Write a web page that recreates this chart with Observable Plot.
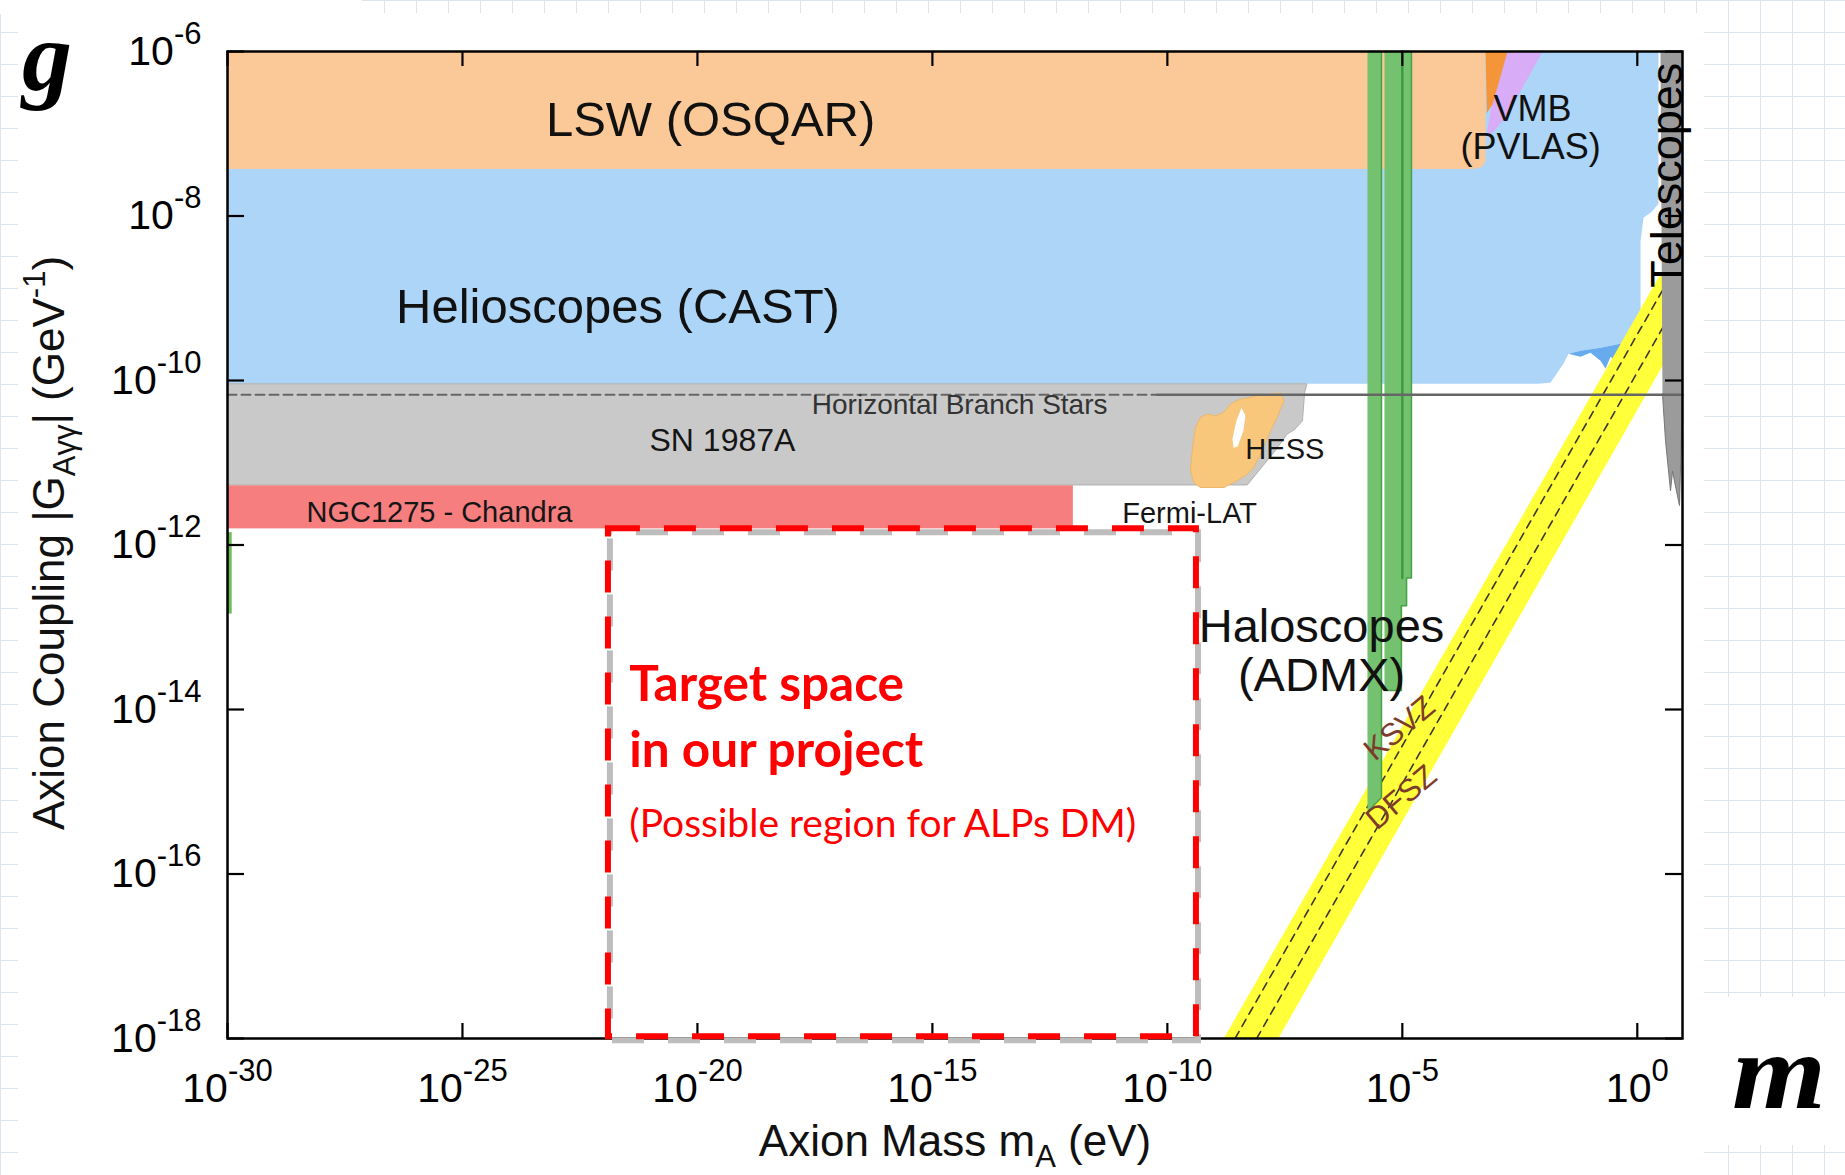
<!DOCTYPE html>
<html>
<head>
<meta charset="utf-8">
<script src="https://cdn.jsdelivr.net/npm/d3@7"></script>
<script src="https://cdn.jsdelivr.net/npm/@observablehq/plot@0.6"></script>
<style>
  html, body { margin: 0; padding: 0; }
  body { width: 1845px; height: 1175px; position: relative; overflow: hidden; background: #fff; }
  #grid { position: absolute; left: 0; top: 0; width: 1845px; height: 1175px;
    background-image: linear-gradient(to right, #dbe5ef 1px, transparent 1px),
                      linear-gradient(to bottom, #dbe5ef 1px, transparent 1px);
    background-size: 32px 32px; }
  .paper { position: absolute; background: #fff; }
  #chart { position: absolute; left: 0; top: 0; }
</style>
</head>
<body>
<div id="grid"></div>
<div class="paper" style="left:18px; top:13px; width:1686px; height:1162px;"></div>
<div class="paper" style="left:0px; top:0px; width:362px; height:14px;"></div>
<div class="paper" style="left:1704px; top:997px; width:141px; height:148px;"></div>
<div id="chart"></div>
<script>
// ---- axes (exponents of ten) ----
const xTicks = [-30, -25, -20, -15, -10, -5, 0];
const yTicks = [-6, -8, -10, -12, -14, -16, -18];

// ---- regions: [log10 mass (eV), log10 coupling (GeV^-1)] ----
const castRegion = [[-30,-6],[0.451,-6],[0.451,-7.852],[0.30,-7.95],[0.133,-8.022],[0.069,-8.3],[0.069,-9.311],
  [-0.102,-9.481],[-0.358,-9.554],[-0.783,-9.603],[-1.209,-9.639],[-1.464,-9.675],[-1.571,-9.797],
  [-1.848,-10.028],[-2.125,-10.04],[-30,-10.04]];
const castEdge = [[-1.464,-9.675],[-1.209,-9.712],[-0.996,-9.663],[-0.783,-9.76],[-0.676,-9.857],[-0.57,-9.712],
  [-0.358,-9.809],[-0.23,-9.907],[-0.145,-9.736],[0.069,-9.578],[0.069,-9.311],[-0.102,-9.481],
  [-0.358,-9.554],[-0.783,-9.603],[-1.209,-9.639]];
const lswRegion = [[-30,-6],[-3.23,-6],[-3.23,-7.33],[-3.3,-7.4],[-3.45,-7.425],[-3.66,-7.43],[-30,-7.43]];
const vmbRegion = [[-2.8,-6],[-2.02,-6],[-2.45,-6.45],[-2.8,-6.8],[-3.1,-7.0],[-3.2,-6.98],[-3.05,-6.5]];
const pvlasStreak = [[-3.23,-6],[-2.76,-6],[-3.08,-6.64],[-3.2,-6.75]];
const snRegion = [[-30,-10.04],[-7.03,-10.04],[-7.08,-10.15],[-7.125,-10.49],[-7.3,-10.6],[-7.45,-10.65],
  [-7.7,-10.85],[-8.3,-11.27],[-30,-11.27]];
const hessRegion = [[-7.593,-10.146],[-7.522,-10.247],[-7.663,-10.45],[-7.806,-10.612],[-8.019,-10.895],
  [-8.161,-11.058],[-8.302,-11.138],[-8.515,-11.219],[-8.8,-11.301],[-9.296,-11.301],[-9.438,-11.24],
  [-9.508,-11.098],[-9.472,-10.855],[-9.402,-10.572],[-9.296,-10.45],[-9.153,-10.409],[-8.977,-10.429],
  [-8.8,-10.389],[-8.657,-10.287],[-8.445,-10.226],[-8.232,-10.207],[-8.019,-10.166]];
const hessHole = [[-8.423,-10.332],[-8.338,-10.429],[-8.381,-10.612],[-8.508,-10.806],[-8.594,-10.818],
  [-8.615,-10.709],[-8.53,-10.49]];
const ngcMass = [-30, -12.0];
const ngcCoupling = [-11.804, -11.28];
const sliverMass = [-30, -29.9];
const sliverCoupling = [-12.84, -11.85];
const haloA = [[-5.742,-6],[-5.444,-6],[-5.444,-15.07],[-5.6,-15.16],[-5.742,-15.25]];
const haloB = [[-5.38,-6],[-4.806,-6],[-4.806,-12.4],[-4.91,-12.4],[-4.91,-12.74],[-5.02,-12.74],
  [-5.02,-13.77],[-5.38,-13.77]];
const haloBInner = [[-5.0,-6],[-5.0,-12.4]];
const axionBand = [[-8.8,-18],[-7.64,-18],[1.69,-8.67],[0.53,-8.67]];
const ksvzLine = [[-8.56,-18],[0.77,-8.67]];
const dfszLine = [[-8.1,-18],[1.23,-8.67]];
const telescopes = [[0.494,-6],[0.962,-6],[0.962,-10.16],[0.898,-11.52],[0.79,-11.22],[0.75,-11.1],
  [0.707,-11.34],[0.6,-10.73],[0.536,-10.16]];
const hbDashed = [[-30,-10.174],[-10.21,-10.174]];
const hbSolid = [[-10.21,-10.174],[0.962,-10.174]];
const targetMass = [-21.894, -9.381];
const targetCoupling = [-17.98, -11.803];

// ---- labels ----
const bigLabels = ["LSW (OSQAR)", "Helioscopes (CAST)", "VMB", "(PVLAS)", "Haloscopes", "(ADMX)"];
const bigLabelMass = [-19.72, -21.69, -2.23, -2.27, -6.72, -6.72];
const bigLabelCoupling = [-7.03, -9.30, -6.84, -7.31, -13.18, -13.77];
const bigLabelSize = [49, 49, 36, 36, 47, 47];
const smallLabels = ["SN 1987A", "NGC1275 - Chandra", "HESS", "Fermi-LAT"];
const smallLabelMass = [-21.02, -28.32, -8.34, -10.96];
const smallLabelCoupling = [-10.855, -11.718, -10.952, -11.73];
const smallLabelSize = [32, 29, 29, 29];
const smallLabelColor = ["#333", "#111", "#111", "#111"];
const modelLabels = ["KSVZ", "DFSZ"];
const modelLabelMass = [-5.06, -5.02];
const modelLabelCoupling = [-14.23, -15.07];
const targetText = ["Target space", "in our project", "(Possible region for ALPs DM)"];
const targetTextCoupling = [-13.893, -14.696, -15.55];
const targetTextSize = [49.5, 49.5, 39];

// ---- build ----
const P = d => ({x: d[0], y: d[1]});
const poly = (pts, fill, extra = {}) => Plot.line(pts.map(P), {x: "x", y: "y", fill, stroke: "none", ...extra});
const zip = (...arrs) => arrs[0].map((_, i) => arrs.map(a => a[i]));

const W = 1845, H = 1175, mL = 227, mR = 163, mT = 51, mB = 137;
const fw = W - mL - mR, fh = H - mT - mB;
const expFmt = d => `10^${d}`;

const bigData = zip(bigLabels, bigLabelMass, bigLabelCoupling, bigLabelSize);
const smallData = zip(smallLabels, smallLabelMass, smallLabelCoupling, smallLabelSize, smallLabelColor);
const modelData = zip(modelLabels, modelLabelMass, modelLabelCoupling);
const targetData = zip(targetText, targetTextCoupling, targetTextSize);

const chart = Plot.plot({
  width: W, height: H,
  marginLeft: mL, marginRight: mR, marginTop: mT, marginBottom: mB,
  style: {background: "transparent", fontFamily: "'Liberation Sans', Arial, sans-serif", fontSize: "41px", color: "#000"},
  x: {domain: [-30, 0.962], ticks: xTicks, tickFormat: expFmt, tickSize: 0, tickPadding: 34, label: null},
  y: {domain: [-18, -6], ticks: yTicks, tickFormat: expFmt, tickSize: 0, tickPadding: 26, label: null},
  marks: [
    poly(castRegion, "#ADD5F7"),
    poly(castEdge, "#67AAEE"),
    poly(lswRegion, "#FBC998"),
    poly(vmbRegion, "#D8ACF6"),
    poly(pvlasStreak, "#F4953A"),
    poly(snRegion, "#C9C9C9", {stroke: "#B0B0B0", strokeWidth: 1}),
    Plot.rect([0], {x1: () => ngcMass[0], x2: () => ngcMass[1], y1: () => ngcCoupling[0], y2: () => ngcCoupling[1], fill: "#F67E7E"}),
    poly(hessRegion, "#F8C77C", {stroke: "#EDB868", strokeWidth: 1}),
    poly(hessHole, "#FFFFFF"),
    Plot.rect([0], {x1: () => sliverMass[0], x2: () => sliverMass[1], y1: () => sliverCoupling[0], y2: () => sliverCoupling[1], fill: "#6DBE5A"}),
    poly(axionBand, "#FFFF3A", {clip: true}),
    Plot.line(ksvzLine.map(P), {x: "x", y: "y", stroke: "#3b3526", strokeWidth: 1.6, strokeDasharray: "8,6", clip: true}),
    Plot.line(dfszLine.map(P), {x: "x", y: "y", stroke: "#3b3526", strokeWidth: 1.6, strokeDasharray: "8,6", clip: true}),
    poly(haloA, "#74C26F", {stroke: "#47A247", strokeWidth: 1.5}),
    poly(haloB, "#74C26F", {stroke: "#47A247", strokeWidth: 1.5}),
    Plot.line(haloBInner.map(P), {x: "x", y: "y", stroke: "#3E9A3E", strokeWidth: 2.5}),
    poly(telescopes, "#9B9B9B", {stroke: "#777", strokeWidth: 1}),
    Plot.line(hbDashed.map(P), {x: "x", y: "y", stroke: "#666", strokeWidth: 2, strokeDasharray: "9,5"}),
    Plot.line(hbSolid.map(P), {x: "x", y: "y", stroke: "#666", strokeWidth: 2.5}),
    Plot.tickX(xTicks, {x: d => d, insetTop: fh - 15, stroke: "#000", strokeWidth: 2.2}),
    Plot.tickX(xTicks, {x: d => d, insetBottom: fh - 15, stroke: "#000", strokeWidth: 2.2}),
    Plot.tickY(yTicks, {y: d => d, insetRight: fw - 17, stroke: "#000", strokeWidth: 2.2}),
    Plot.tickY(yTicks, {y: d => d, insetLeft: fw - 17, stroke: "#000", strokeWidth: 2.2}),
    Plot.frame({stroke: "#000", strokeWidth: 2.5}),
    // target box with shadow
    Plot.rect([0], {x1: () => targetMass[0], x2: () => targetMass[1], y1: () => targetCoupling[0], y2: () => targetCoupling[1],
      fill: "none", stroke: "#BDBDBD", strokeWidth: 6, dx: 2, dy: 4, strokeDasharray: "32,24", strokeDashoffset: -26}),
    Plot.rect([0], {x1: () => targetMass[0], x2: () => targetMass[1], y1: () => targetCoupling[0], y2: () => targetCoupling[1],
      fill: "none", stroke: "#FF0000", strokeWidth: 6, strokeDasharray: "32,24"}),
    // labels
    Plot.text(bigData, {x: d => d[1], y: d => d[2], text: d => d[0], fontSize: d => d[3], textAnchor: "middle", lineAnchor: "bottom", fill: "#111"}),
    Plot.text(smallData, {x: d => d[1], y: d => d[2], text: d => d[0], fontSize: d => d[3], textAnchor: "start", lineAnchor: "bottom", fill: "#151515"}),
    Plot.text(["Horizontal Branch Stars"], {x: () => -14.42, y: () => -10.405, text: d => d, fontSize: 28, textAnchor: "middle", lineAnchor: "bottom", fill: "#333"}),
    Plot.text(["Telescopes"], {x: () => 0.941, y: () => -8.873, text: d => d, fontSize: 45, rotate: -90, textAnchor: "start", lineAnchor: "bottom", fill: "#000"}),
    Plot.text(modelData, {x: d => d[1], y: d => d[2], text: d => d[0], fontSize: 31, rotate: -40, textAnchor: "middle", lineAnchor: "middle", fill: "#7e3a2a"}),
    Plot.text(targetData.slice(0, 2), {x: () => -21.45, y: d => d[1], text: d => d[0], fontSize: d => d[2], fontFamily: "Lato, 'Open Sans', sans-serif", fontWeight: "bold", textAnchor: "start", lineAnchor: "bottom", fill: "#FF0000"}),
    Plot.text(targetData.slice(2), {x: () => -21.45, y: d => d[1], text: d => d[0], fontSize: d => d[2], fontFamily: "Lato, 'Open Sans', sans-serif", textAnchor: "start", lineAnchor: "bottom", fill: "#FF0000"})
  ]
});

document.getElementById("chart").appendChild(chart);

// superscript exponents in tick labels
const svg = d3.select(chart);
svg.selectAll("text").each(function () {
  if (this.childElementCount) return;
  const m = /^10\^(-?\d+)$/.exec(this.textContent);
  if (m) {
    this.textContent = "10";
    d3.select(this).append("tspan").attr("dy", -21).attr("font-size", 31).text(m[1]);
  }
});

// axis titles
const xl = svg.append("text").attr("x", 955).attr("y", 1156).attr("text-anchor", "middle")
  .attr("font-size", 44).attr("fill", "#111");
xl.append("tspan").text("Axion Mass m");
xl.append("tspan").attr("font-size", 31).attr("dy", 11).text("A");
xl.append("tspan").attr("dy", -11).text(" (eV)");

const yl = svg.append("text").attr("transform", "translate(64,543) rotate(-90)").attr("text-anchor", "middle")
  .attr("font-size", 44).attr("fill", "#111");
yl.append("tspan").text("Axion Coupling |G");
yl.append("tspan").attr("font-size", 31).attr("dy", 11).text("Aγγ");
yl.append("tspan").attr("dy", -11).text("| (GeV");
yl.append("tspan").attr("font-size", 31).attr("dy", -19).text("-1");
yl.append("tspan").attr("dy", 19).text(")");

// slide letters
svg.append("text").attr("x", 22).attr("y", 90).attr("text-anchor", "start").attr("font-family", "'Liberation Serif', serif")
  .attr("font-style", "italic").attr("font-weight", "bold").attr("font-size", 100).attr("fill", "#000").text("g");
svg.append("text").attr("x", 1732).attr("y", 1108).attr("text-anchor", "start").attr("font-family", "'Liberation Serif', serif")
  .attr("font-style", "italic").attr("font-weight", "bold").attr("font-size", 108).attr("fill", "#000")
  .attr("textLength", 94).attr("lengthAdjust", "spacingAndGlyphs").text("m");
</script>
</body>
</html>
